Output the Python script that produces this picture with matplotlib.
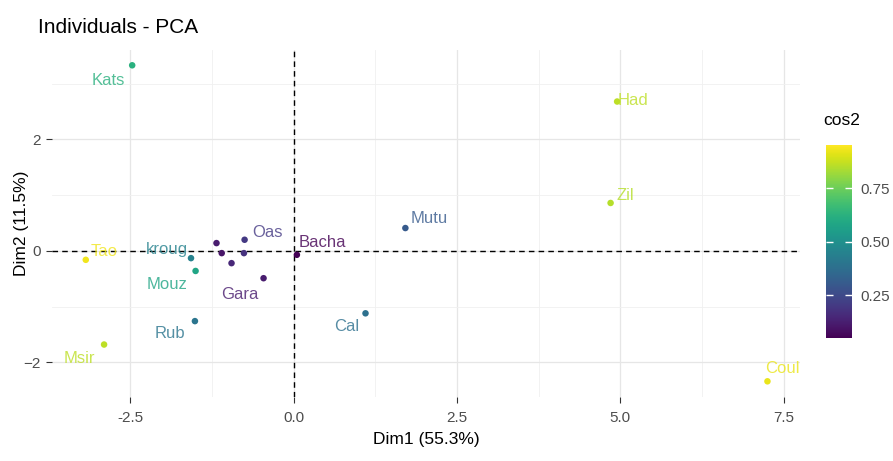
import matplotlib
matplotlib.use('Agg')
import matplotlib.pyplot as plt
import matplotlib.colors as mcolors
import numpy as np

# PCA 个体坐标
names = ['Kats', 'Had', 'Zil', 'Mutu', 'Bacha', 'Oas', 'kroug', 'Mouz', 'Gara',
         'Rub', 'Msir', 'Tao', 'Cal', 'Coul', '', '', '', '']
dim1 = [-2.47, 4.95, 4.85, 1.71, 0.05, -0.75, -1.57, -1.50, -0.46,
        -1.51, -2.90, -3.18, 1.10, 7.25, -1.18, -1.10, -0.95, -0.76]
dim2 = [3.33, 2.68, 0.86, 0.41, -0.07, 0.20, -0.13, -0.36, -0.49,
        -1.26, -1.68, -0.16, -1.12, -2.34, 0.14, -0.04, -0.22, -0.04]
cos2 = [0.62, 0.86, 0.85, 0.30, 0.05, 0.20, 0.45, 0.58, 0.12,
        0.40, 0.86, 0.93, 0.38, 0.92, 0.12, 0.10, 0.15, 0.18]

# 标签偏移 (像素)
offsets = [(-24, -15), (16, 1), (15, 7), (24, 10), (25, 12), (23, 7), (-24, 9),
           (-29, -14), (-24, -16), (-25, -12), (-25, -14), (18, 8), (-19, -13),
           (15, 13), (0, 0), (0, 0), (0, 0), (0, 0)]

plt.rcParams['font.family'] = ['Liberation Sans', 'DejaVu Sans']

fig = plt.figure(figsize=(8.93, 4.61), dpi=100)
ax = fig.add_axes([0.058, 0.139, 0.838, 0.752])

cmap = plt.get_cmap('viridis')
norm = mcolors.Normalize(vmin=0.05, vmax=0.95)

ax.axhline(0, color='black', linestyle=(0, (4, 3)), linewidth=1, zorder=1)
ax.axvline(0, color='black', linestyle=(0, (4, 3)), linewidth=1, zorder=1)

sc = ax.scatter(dim1, dim2, c=cos2, cmap=cmap, norm=norm, s=22, zorder=3,
                edgecolors='none')

for i in range(len(names)):
    if names[i] == '':
        continue
    ax.annotate(names[i], (dim1[i], dim2[i]), xytext=offsets[i],
                textcoords='offset pixels', ha='center', va='center',
                fontsize=12, color=cmap(norm(cos2[i])), alpha=0.8, zorder=4)

ax.set_xlim(-3.7, 7.75)
ax.set_ylim(-2.62, 3.6)
ax.set_xticks([-2.5, 0, 2.5, 5.0, 7.5])
ax.set_xticklabels(['-2.5', '0.0', '2.5', '5.0', '7.5'])
ax.set_yticks([-2, 0, 2])
ax.set_xticks([-1.25, 1.25, 3.75, 6.25], minor=True)
ax.set_yticks([-1, 1, 3], minor=True)
ax.grid(True, which='major', color='#e6e6e6', linewidth=0.9)
ax.grid(True, which='minor', color='#f0f0f0', linewidth=0.6)
ax.tick_params(which='major', length=4, color='#333333', labelsize=11,
               labelcolor='#4d4d4d', pad=4)
ax.tick_params(axis='x', pad=6)
ax.tick_params(which='minor', length=0)
for s in ax.spines.values():
    s.set_visible(False)
ax.set_axisbelow(True)

ax.set_xlabel('Dim1 (55.3%)', fontsize=12.5, labelpad=5)
ax.set_ylabel('Dim2 (11.5%)', fontsize=12.5, labelpad=-4)
fig.text(0.042, 0.94, 'Individuals - PCA', fontsize=15, ha='left', va='center')

cax = fig.add_axes([0.925, 0.267, 0.029, 0.418])
cb = fig.colorbar(sc, cax=cax)
cb.set_ticks([0.25, 0.5, 0.75])
cb.set_ticklabels(['0.25', '0.50', '0.75'])
cb.outline.set_visible(False)
cb.ax.tick_params(length=5, color='white', width=1, direction='in',
                  left=True, right=True, labelsize=11, labelcolor='#4d4d4d',
                  pad=6)
fig.text(0.922, 0.738, 'cos2', fontsize=12.5, ha='left', va='center')

plt.savefig('out.png', dpi=100)
